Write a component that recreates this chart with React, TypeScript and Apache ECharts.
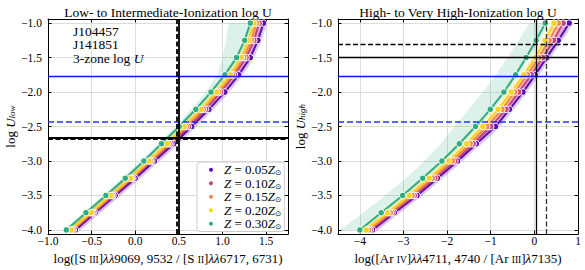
import React, { useEffect, useRef } from "react";
import * as echarts from "echarts";

// ---------- data ----------
const logU = [-4.0, -3.75, -3.5, -3.25, -3.0, -2.75, -2.5, -2.25, -2.0, -1.75, -1.5, -1.25, -1.0];
const zLabels = ["0.05", "0.10", "0.15", "0.20", "0.30"];
const zColors = ["#5b0db3", "#c9417e", "#f4874b", "#fcd21c", "#2eae7c"];

// left panel: log([S III]/[S II]) vs log U_low
const sRatioZ005 = [-0.686, -0.46, -0.23, 0.0, 0.22, 0.44, 0.647, 0.844, 1.026, 1.185, 1.318, 1.405, 1.47];
const sRatioZ010 = [-0.71, -0.48, -0.254, -0.027, 0.19, 0.41, 0.61, 0.807, 0.977, 1.136, 1.27, 1.36, 1.42];
const sRatioZ015 = [-0.725, -0.495, -0.27, -0.042, 0.172, 0.387, 0.585, 0.78, 0.953, 1.113, 1.243, 1.33, 1.39];
const sRatioZ020 = [-0.74, -0.51, -0.284, -0.057, 0.155, 0.364, 0.56, 0.753, 0.93, 1.09, 1.216, 1.3, 1.36];
const sRatioZ030 = [-0.79, -0.565, -0.337, -0.114, 0.098, 0.3, 0.503, 0.693, 0.867, 1.026, 1.16, 1.253, 1.318];
const sRatioZ030BandLow = [-0.82, -0.6, -0.37, -0.15, 0.06, 0.26, 0.46, 0.64, 0.81, 0.94, 1.0, 1.04, 1.07];
const sRatioZ030BandHigh = [-0.75, -0.53, -0.3, -0.08, 0.13, 0.34, 0.54, 0.73, 0.91, 1.07, 1.21, 1.31, 1.38];

// right panel: log([Ar IV]/[Ar III]) vs log U_high
const arRatioZ005 = [-3.71, -3.21, -2.69, -2.22, -1.76, -1.33, -0.89, -0.57, -0.26, 0.02, 0.28, 0.55, 0.8];
const arRatioZ010 = [-3.76, -3.26, -2.75, -2.28, -1.82, -1.4, -1.0, -0.65, -0.36, -0.07, 0.19, 0.44, 0.66];
const arRatioZ015 = [-3.8, -3.3, -2.8, -2.34, -1.88, -1.47, -1.09, -0.74, -0.45, -0.16, 0.1, 0.34, 0.55];
const arRatioZ020 = [-3.855, -3.36, -2.87, -2.41, -1.96, -1.55, -1.18, -0.83, -0.53, -0.24, 0.02, 0.246, 0.45];
const arRatioZ030 = [-4.0, -3.51, -3.02, -2.56, -2.12, -1.72, -1.35, -1.01, -0.7, -0.43, -0.19, 0.04, 0.25];
const arRatioZ030BandLow = [-4.45, -3.92, -3.42, -2.95, -2.52, -2.15, -1.83, -1.5, -1.18, -0.88, -0.62, -0.36, -0.11];
const arRatioZ030BandHigh = [-3.92, -3.43, -2.94, -2.48, -2.04, -1.64, -1.27, -0.93, -0.62, -0.35, -0.11, 0.12, 0.33];

// reference measurements
const blueLogU = [-1.774, -2.426]; // solid, dashed (both panels)
const leftBlackLogU = [-2.656, -2.68]; // solid, dashed
const leftBlackRatio = [0.504, 0.485]; // solid, dashed
const rightBlackLogU = [-1.505, -1.3]; // solid, dashed
const rightBlackRatio = [0.05, 0.27]; // solid, dashed

// ticks
const leftTicksX = [-1.0, -0.5, 0.0, 0.5, 1.0, 1.5];
const rightTicksX = [-4, -3, -2, -1, 0, 1];
const ticksY = [-4.0, -3.5, -3.0, -2.5, -2.0, -1.5, -1.0];

const annotationLines = ["J104457", "J141851", "3-zone log {i|U}"];

const leftSets = [sRatioZ005, sRatioZ010, sRatioZ015, sRatioZ020, sRatioZ030];
const rightSets = [arRatioZ005, arRatioZ010, arRatioZ015, arRatioZ020, arRatioZ030];

const FONT = "'Liberation Serif', 'DejaVu Serif', serif";
const minus = (s: string) => s.replace("-", "\u2212");

export default function App() {
  const ref = useRef<HTMLDivElement>(null);
  useEffect(() => {
    if (!ref.current) return;
    const chart = echarts.init(ref.current, undefined, { renderer: "svg" });

    const pairs = (xs: number[]) => xs.map((x, i) => [x, logU[i]]);

    const bandSeries = (lo: number[], hi: number[], gi: number) => ({
      type: "custom",
      xAxisIndex: gi,
      yAxisIndex: gi,
      silent: true,
      z: 1,
      clip: true,
      data: [[lo[0], logU[0]]],
      renderItem: (_p: any, api: any) => {
        const pts: number[][] = [];
        for (let i = 0; i < logU.length; i++) pts.push(api.coord([lo[i], logU[i]]));
        for (let i = logU.length - 1; i >= 0; i--) pts.push(api.coord([hi[i], logU[i]]));
        return {
          type: "polygon",
          shape: { points: pts },
          style: { fill: "rgba(46,174,124,0.17)", stroke: "none" },
        };
      },
    });

    const series: any[] = [];
    [leftSets, rightSets].forEach((sets, gi) => {
      series.push(
        gi === 0
          ? bandSeries(sRatioZ030BandLow, sRatioZ030BandHigh, 0)
          : bandSeries(arRatioZ030BandLow, arRatioZ030BandHigh, 1)
      );
      sets.forEach((xs, k) => {
        if (k === 4) return;
        series.push({
          type: "line",
          name: "halo" + gi + k,
          xAxisIndex: gi,
          yAxisIndex: gi,
          data: pairs(xs),
          showSymbol: false,
          silent: true,
          z: 2,
          lineStyle: { color: zColors[k], width: 7, opacity: 0.22 },
        });
      });
      sets.forEach((xs, k) => {
        series.push({
          type: "line",
          name: zLabels[k],
          xAxisIndex: gi,
          yAxisIndex: gi,
          data: pairs(xs),
          symbol: "circle",
          symbolSize: 6.5,
          z: 3,
          lineStyle: { color: zColors[k], width: 2 },
          itemStyle: { color: zColors[k], borderColor: "#fff", borderWidth: 1 },
        });
      });
      const ml: any[] = [
        { yAxis: blueLogU[0], lineStyle: { color: "#0a14ff", width: 1.3, type: "solid" } },
        { yAxis: blueLogU[1], lineStyle: { color: "#2233ff", width: 1.5, type: [6, 3] } },
      ];
      if (gi === 0) {
        ml.push(
          { yAxis: leftBlackLogU[0], lineStyle: { color: "#000", width: 1.8, type: "solid" } },
          { yAxis: leftBlackLogU[1], lineStyle: { color: "#000", width: 1.8, type: [5, 2.5] } },
          { xAxis: leftBlackRatio[0], lineStyle: { color: "#000", width: 1.8, type: "solid" } },
          { xAxis: leftBlackRatio[1], lineStyle: { color: "#000", width: 1.8, type: [5, 2.5] } }
        );
      } else {
        ml.push(
          { yAxis: rightBlackLogU[0], lineStyle: { color: "#000", width: 1.3, type: "solid" } },
          { yAxis: rightBlackLogU[1], lineStyle: { color: "#000", width: 1.3, type: [5, 2.5] } },
          { xAxis: rightBlackRatio[0], lineStyle: { color: "#000", width: 1.3, type: "solid" } },
          { xAxis: rightBlackRatio[1], lineStyle: { color: "#333", width: 1.3, type: [5, 2.5] } }
        );
      }
      series.push({
        type: "line",
        name: "refs" + gi,
        xAxisIndex: gi,
        yAxisIndex: gi,
        data: [],
        z: 4,
        markLine: {
          silent: true,
          symbol: ["none", "none"],
          label: { show: false },
          animation: false,
          data: ml,
        },
      });
    });

    const rich = {
      i: { fontFamily: FONT, fontStyle: "italic", fontSize: 13, lineHeight: 12, color: "#000" },
      sc: { fontFamily: FONT, fontSize: 9.5, lineHeight: 9, verticalAlign: "bottom", color: "#000" },
      sub: { fontFamily: FONT, fontStyle: "italic", fontSize: 9, lineHeight: 5, verticalAlign: "bottom", color: "#000" },
    };

    const xAxisBase = (gi: number, min: number, max: number, ticks: number[], fmt: (v: number) => string, name: string) => ({
      type: "value",
      gridIndex: gi,
      min,
      max,
      position: "bottom",
      name,
      nameLocation: "middle",
      nameGap: 16,
      nameTextStyle: { fontFamily: FONT, fontSize: 13, color: "#000", lineHeight: 12, rich },
      axisLine: { show: true, onZero: false, lineStyle: { color: "#000", width: 1 } },
      axisTick: { show: true, inside: true, length: 3.5, customValues: ticks, lineStyle: { color: "#000" } },
      axisLabel: { customValues: ticks, fontFamily: FONT, fontSize: 11.5, lineHeight: 10, color: "#000", margin: 2, formatter: (v: number) => minus(fmt(v)) },
      splitLine: { show: true, lineStyle: { color: "#dcdcdc", width: 1 } },
    });
    const xAxisTop = (gi: number, min: number, max: number, ticks: number[]) => ({
      type: "value",
      gridIndex: gi,
      min,
      max,
      position: "top",
      axisLine: { show: true, onZero: false, lineStyle: { color: "#000", width: 1 } },
      axisTick: { show: true, inside: true, length: 3.5, customValues: ticks, lineStyle: { color: "#000" } },
      axisLabel: { show: false },
      splitLine: { show: false },
    });
    const yAxisBase = (gi: number, name: string, gap: number) => ({
      type: "value",
      gridIndex: gi,
      min: -4.06,
      max: -0.94,
      position: "left",
      name,
      nameLocation: "middle",
      nameGap: gap,
      nameRotate: 90,
      nameTextStyle: { fontFamily: FONT, fontSize: 13, color: "#000", lineHeight: 12, rich },
      axisLine: { show: true, onZero: false, lineStyle: { color: "#000", width: 1 } },
      axisTick: { show: true, inside: true, length: 3.5, customValues: ticksY, lineStyle: { color: "#000" } },
      axisLabel: { customValues: ticksY, fontFamily: FONT, fontSize: 11.5, color: "#000", margin: 6, formatter: (v: number) => minus(v.toFixed(1)) },
      splitLine: { show: true, lineStyle: { color: "#dcdcdc", width: 1 } },
    });
    const yAxisRight = (gi: number) => ({
      type: "value",
      gridIndex: gi,
      min: -4.06,
      max: -0.94,
      position: "right",
      axisLine: { show: true, onZero: false, lineStyle: { color: "#000", width: 1 } },
      axisTick: { show: true, inside: true, length: 3.5, customValues: ticksY, lineStyle: { color: "#000" } },
      axisLabel: { show: false },
      splitLine: { show: false },
    });

    const option: any = {
      animation: false,
      backgroundColor: "#fff",
      grid: [
        { left: 48, top: 19, width: 240, height: 216 },
        { left: 338, top: 19, width: 240, height: 216 },
      ],
      xAxis: [
        xAxisBase(0, -1.0, 1.75, leftTicksX, (v) => v.toFixed(1), "log([S {sc|III}]{i|λλ}9069, 9532 / [S {sc|II}]{i|λλ}6717, 6731)"),
        xAxisBase(1, -4.5, 1.0, rightTicksX, (v) => String(v), "log([Ar {sc|IV}]{i|λλ}4711, 4740 / [Ar {sc|III}]{i|λ}7135)"),
        xAxisTop(0, -1.0, 1.75, leftTicksX),
        xAxisTop(1, -4.5, 1.0, rightTicksX),
      ],
      yAxis: [
        yAxisBase(0, "log {i|U}{sub|low}", 30),
        yAxisBase(1, "log {i|U}{sub|high}", 31),
        yAxisRight(0),
        yAxisRight(1),
      ],
      legend: {
        data: zLabels,
        selectedMode: false,
        orient: "vertical",
        left: 197,
        top: 162,
        backgroundColor: "#fff",
        borderColor: "#cccccc",
        borderWidth: 1,
        borderRadius: 3,
        padding: [1, 3, 1, 10],
        itemWidth: 6,
        itemHeight: 6,
        itemGap: 0,
        icon: "circle",
        textStyle: {
          fontFamily: FONT,
          fontSize: 13,
          lineHeight: 13.5,
          color: "#000",
          rich: {
            p: { width: 5, lineHeight: 13.5 },
            i: { fontFamily: FONT, fontStyle: "italic", fontSize: 13, lineHeight: 13.5 },
            t: { fontFamily: FONT, fontSize: 13, lineHeight: 13.5 },
            s: { fontFamily: "'DejaVu Sans', sans-serif", fontSize: 7.5, lineHeight: 7, verticalAlign: "bottom" },
          },
        },
        formatter: (n: string) => `{p|}{i|Z}{t| = ${n}}{i|Z}{s|⊙}`,
      },
      graphic: [
        { type: "text", x: 168, y: 12, style: { text: "Low- to Intermediate-Ionization log U", font: `13.5px ${FONT}`, fill: "#000", align: "center", verticalAlign: "middle" } },
        { type: "text", x: 458, y: 12, style: { text: "High- to Very High-Ionization log U", font: `13.5px ${FONT}`, fill: "#000", align: "center", verticalAlign: "middle" } },
        ...annotationLines.map((t, i) => ({
          type: "text",
          x: 73,
          y: 31 + i * 13.7,
          z: 10,
          style: {
            text: t,
            font: `13.5px ${FONT}`,
            fill: "#000",
            align: "left",
            verticalAlign: "middle",
            rich: { i: { fontFamily: FONT, fontStyle: "italic", fontSize: 13.5 } },
          },
        })),
      ],
      series,
    };

    chart.setOption(option);
    return () => chart.dispose();
  }, []);
  return <div ref={ref} style={{ position: "absolute", left: 0, top: 0, width: 585, height: 270 }} />;
}
